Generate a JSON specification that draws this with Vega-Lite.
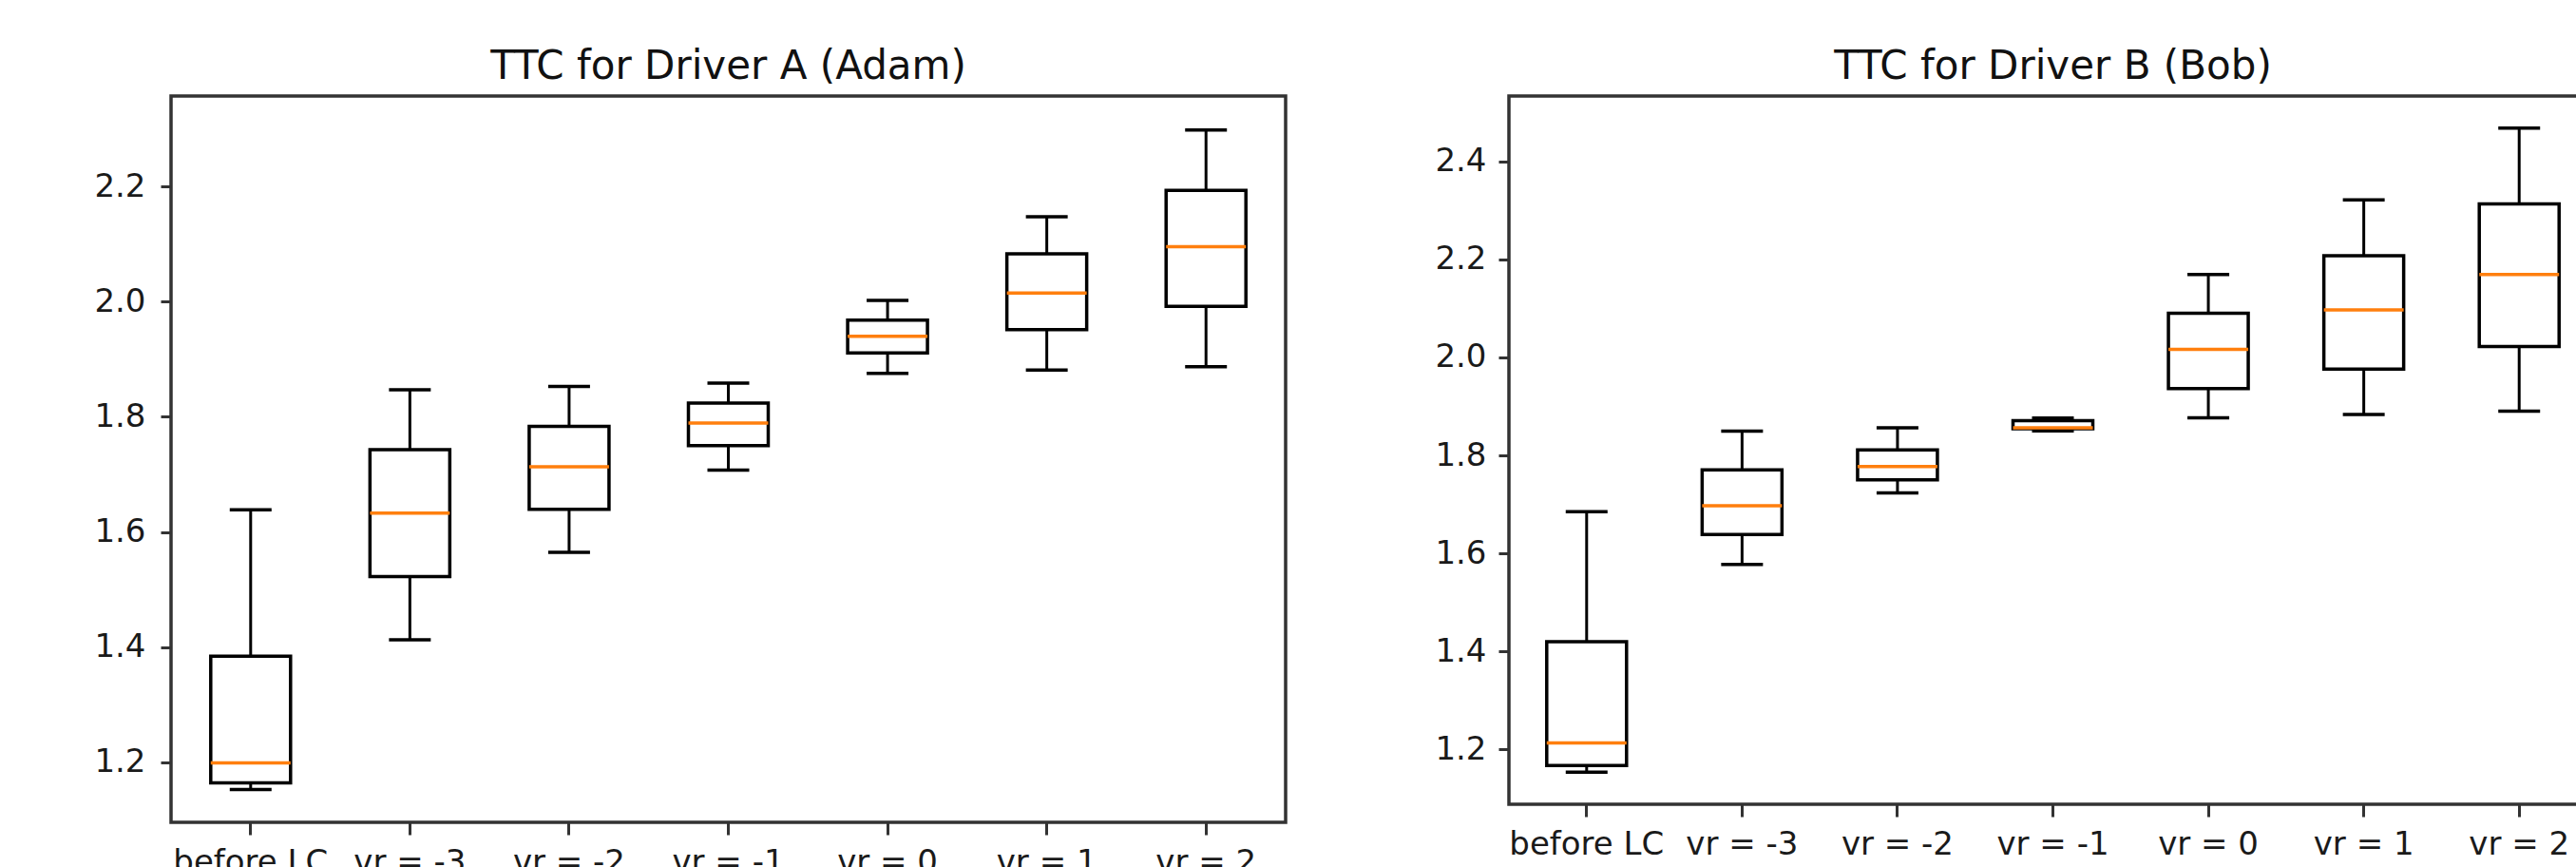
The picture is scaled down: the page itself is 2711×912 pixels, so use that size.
{
  "$schema": "https://vega.github.io/schema/vega-lite/v6.json",
  "background": "white",
  "padding": {"left": 97, "top": 47, "right": 0, "bottom": 0},
  "spacing": 153,
  "datasets": {
    "adam": [
      {"cat": "before LC", "lower": 1.153, "q1": 1.1645, "median": 1.199, "q3": 1.3843, "upper": 1.6386},
      {"cat": "vr = -3", "lower": 1.413, "q1": 1.5225, "median": 1.6328, "q3": 1.7432, "upper": 1.8468},
      {"cat": "vr = -2", "lower": 1.5647, "q1": 1.6395, "median": 1.7134, "q3": 1.7835, "upper": 1.8526},
      {"cat": "vr = -1", "lower": 1.7077, "q1": 1.7499, "median": 1.7893, "q3": 1.8238, "upper": 1.8584},
      {"cat": "vr = 0", "lower": 1.8756, "q1": 1.9111, "median": 1.9399, "q3": 1.9678, "upper": 2.0023},
      {"cat": "vr = 1", "lower": 1.8814, "q1": 1.9514, "median": 2.0148, "q3": 2.0829, "upper": 2.1472},
      {"cat": "vr = 2", "lower": 1.8871, "q1": 1.9917, "median": 2.0954, "q3": 2.1933, "upper": 2.2979}
    ],
    "bob": [
      {"cat": "before LC", "lower": 1.1538, "q1": 1.1673, "median": 1.2135, "q3": 1.42, "upper": 1.685},
      {"cat": "vr = -3", "lower": 1.5778, "q1": 1.6387, "median": 1.6973, "q3": 1.7707, "upper": 1.8496},
      {"cat": "vr = -2", "lower": 1.7233, "q1": 1.7504, "median": 1.7774, "q3": 1.8112, "upper": 1.8564},
      {"cat": "vr = -1", "lower": 1.8498, "q1": 1.8543, "median": 1.8562, "q3": 1.8707, "upper": 1.8762},
      {"cat": "vr = 0", "lower": 1.8767, "q1": 1.9364, "median": 2.0165, "q3": 2.0898, "upper": 2.1688},
      {"cat": "vr = 1", "lower": 1.8834, "q1": 1.9759, "median": 2.0966, "q3": 2.2071, "upper": 2.321},
      {"cat": "vr = 2", "lower": 1.8902, "q1": 2.0221, "median": 2.1688, "q3": 2.3131, "upper": 2.4676}
    ]
  },
  "config": {
    "view": {"stroke": "#333333", "strokeWidth": 3.5},
    "axis": {
      "labelFont": "DejaVu Sans",
      "labelFontSize": 34,
      "labelColor": "#1a1a1a",
      "tickColor": "#333333",
      "tickWidth": 3,
      "domain": false,
      "grid": false,
      "title": null
    },
    "title": {
      "font": "DejaVu Sans",
      "fontSize": 42,
      "fontWeight": "normal",
      "color": "#111111",
      "baseline": "alphabetic",
      "offset": 9,
      "anchor": "middle"
    }
  },
  "hconcat": [
    {
      "title": "TTC for Driver A (Adam)",
      "width": 1173,
      "height": 764,
      "data": {"name": "adam"},
      "encoding": {
        "x": {
          "field": "cat", "type": "nominal", "sort": null,
          "scale": {"type": "band", "paddingInner": 0, "paddingOuter": 0},
          "axis": {"labelAngle": 0, "tickSize": 13, "labelPadding": 12}
        }
      },
      "layer": [
        {
          "mark": {"type": "rule", "color": "black", "strokeWidth": 3},
          "encoding": {
            "y": {"field": "lower", "type": "quantitative",
              "scale": {"domain": [1.096, 2.357], "nice": false, "zero": false},
              "axis": {"values": [1.2, 1.4, 1.6, 1.8, 2.0, 2.2], "format": ".1f", "tickSize": 11, "labelPadding": 16}},
            "y2": {"field": "upper"}
          }
        },
        {
          "mark": {"type": "bar", "size": 84, "fill": "white", "stroke": "black", "strokeWidth": 3.5},
          "encoding": {"y": {"field": "q1", "type": "quantitative"}, "y2": {"field": "q3"}}
        },
        {
          "mark": {"type": "tick", "size": 44, "thickness": 3.5, "color": "black", "opacity": 1},
          "encoding": {"y": {"field": "lower", "type": "quantitative"}}
        },
        {
          "mark": {"type": "tick", "size": 44, "thickness": 3.5, "color": "black", "opacity": 1},
          "encoding": {"y": {"field": "upper", "type": "quantitative"}}
        },
        {
          "mark": {"type": "tick", "size": 84, "thickness": 3.5, "color": "#ff7f0e", "opacity": 1},
          "encoding": {"y": {"field": "median", "type": "quantitative"}}
        }
      ]
    },
    {
      "title": "TTC for Driver B (Bob)",
      "width": 1145,
      "height": 745,
      "data": {"name": "bob"},
      "encoding": {
        "x": {
          "field": "cat", "type": "nominal", "sort": null,
          "scale": {"type": "band", "paddingInner": 0, "paddingOuter": 0},
          "axis": {"labelAngle": 0, "tickSize": 13, "labelPadding": 12}
        }
      },
      "layer": [
        {
          "mark": {"type": "rule", "color": "black", "strokeWidth": 3},
          "encoding": {
            "y": {"field": "lower", "type": "quantitative",
              "scale": {"domain": [1.0885, 2.533], "nice": false, "zero": false},
              "axis": {"values": [1.2, 1.4, 1.6, 1.8, 2.0, 2.2, 2.4], "format": ".1f", "tickSize": 11, "labelPadding": 13}},
            "y2": {"field": "upper"}
          }
        },
        {
          "mark": {"type": "bar", "size": 84, "fill": "white", "stroke": "black", "strokeWidth": 3.5},
          "encoding": {"y": {"field": "q1", "type": "quantitative"}, "y2": {"field": "q3"}}
        },
        {
          "mark": {"type": "tick", "size": 44, "thickness": 3.5, "color": "black", "opacity": 1},
          "encoding": {"y": {"field": "lower", "type": "quantitative"}}
        },
        {
          "mark": {"type": "tick", "size": 44, "thickness": 3.5, "color": "black", "opacity": 1},
          "encoding": {"y": {"field": "upper", "type": "quantitative"}}
        },
        {
          "mark": {"type": "tick", "size": 84, "thickness": 3.5, "color": "#ff7f0e", "opacity": 1},
          "encoding": {"y": {"field": "median", "type": "quantitative"}}
        }
      ]
    }
  ]
}
